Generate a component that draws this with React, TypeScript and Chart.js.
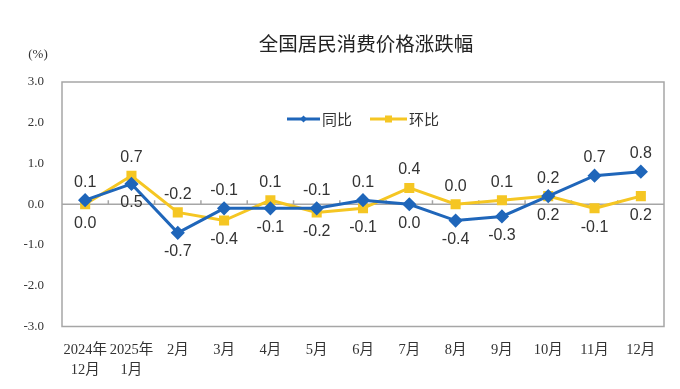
import React, { useEffect, useRef } from "react";
import { Chart, registerables } from "chart.js";
Chart.register(...registerables);

const categories: (string | string[])[] = [
  ["2024年", "12月"], ["2025年", "1月"], "2月", "3月", "4月", "5月", "6月",
  "7月", "8月", "9月", "10月", "11月", "12月",
];
const yoy = [0.1, 0.5, -0.7, -0.1, -0.1, -0.1, 0.1, 0.0, -0.4, -0.3, 0.2, 0.7, 0.8];
const mom = [0.0, 0.7, -0.2, -0.4, 0.1, -0.2, -0.1, 0.4, 0.0, 0.1, 0.2, -0.1, 0.2];
const seriesNames = ["同比", "环比"];
const titleText = "全国居民消费价格涨跌幅";
const unitText = "(%)";

const BLUE = "#1F66BA";
const YELLOW = "#F5C623";
const FRAME = "#A6A6A6";
const CJK = "'Noto Sans CJK SC', 'Noto Sans', sans-serif";
const SERIF = "'Liberation Serif', 'Noto Sans CJK SC', serif";
const SANS = "'Liberation Sans', Arial, sans-serif";

const decorPlugin = {
  id: "decor",
  beforeDatasetsDraw(chart: any) {
    const { ctx, chartArea: a, scales } = chart;
    const y0 = scales.y.getPixelForValue(0);
    ctx.save();
    ctx.strokeStyle = FRAME;
    ctx.lineWidth = 1.5;
    ctx.strokeRect(a.left, a.top, a.right - a.left, a.bottom - a.top);
    ctx.beginPath();
    ctx.moveTo(a.left, y0);
    ctx.lineTo(a.right, y0);
    const n = categories.length;
    const step = (a.right - a.left) / n;
    for (let i = 1; i < n; i++) {
      const x = a.left + step * i;
      ctx.moveTo(x, y0);
      ctx.lineTo(x, y0 - 4);
    }
    ctx.stroke();
    ctx.restore();
  },
  afterDraw(chart: any) {
    const { ctx } = chart;
    ctx.save();
    // data labels
    const m0 = chart.getDatasetMeta(0).data;
    const m1 = chart.getDatasetMeta(1).data;
    ctx.font = `16px ${SANS}`;
    ctx.fillStyle = "#333";
    ctx.textAlign = "center";
    ctx.textBaseline = "middle";
    for (let j = 0; j < yoy.length; j++) {
      const aboveIsYoy = yoy[j] >= mom[j];
      const up = aboveIsYoy ? m0[j] : m1[j];
      const dn = aboveIsYoy ? m1[j] : m0[j];
      const upV = aboveIsYoy ? yoy[j] : mom[j];
      const dnV = aboveIsYoy ? mom[j] : yoy[j];
      ctx.fillText(upV.toFixed(1), up.x, up.y - 18);
      ctx.fillText(dnV.toFixed(1), dn.x, dn.y + 19);
    }
    // title
    ctx.font = `19.5px ${CJK}`;
    ctx.fillStyle = "#222";
    ctx.fillText(titleText, 366, 44);
    // unit
    ctx.font = `13px ${SERIF}`;
    ctx.fillStyle = "#333";
    ctx.fillText(unitText, 38, 55);
    // legend
    const ly = 119;
    const drawItem = (x1: number, x2: number, color: string, style: string, label: string) => {
      ctx.strokeStyle = color;
      ctx.lineWidth = 3;
      ctx.beginPath();
      ctx.moveTo(x1, ly);
      ctx.lineTo(x2, ly);
      ctx.stroke();
      ctx.fillStyle = color;
      const cx = (x1 + x2) / 2;
      if (style === "diamond") {
        ctx.beginPath();
        ctx.moveTo(cx, ly - 3.5);
        ctx.lineTo(cx + 3.5, ly);
        ctx.lineTo(cx, ly + 3.5);
        ctx.lineTo(cx - 3.5, ly);
        ctx.closePath();
        ctx.fill();
      } else {
        ctx.fillRect(cx - 3.5, ly - 3.5, 7, 7);
      }
      ctx.font = `15px ${CJK}`;
      ctx.fillStyle = "#333";
      ctx.textAlign = "left";
      ctx.fillText(label, x2 + 2, ly);
    };
    drawItem(287, 320, BLUE, "diamond", seriesNames[0]);
    drawItem(370, 407, YELLOW, "square", seriesNames[1]);
    ctx.restore();
  },
};

export default function App() {
  const ref = useRef<HTMLCanvasElement>(null);
  useEffect(() => {
    const chart = new Chart(ref.current!, {
      type: "line",
      data: {
        labels: categories as any,
        datasets: [
          {
            label: seriesNames[0],
            data: yoy,
            borderColor: BLUE,
            backgroundColor: BLUE,
            borderWidth: 3,
            pointStyle: "rectRot",
            pointRadius: 5,
            pointHoverRadius: 5,
            tension: 0,
          },
          {
            label: seriesNames[1],
            data: mom,
            borderColor: YELLOW,
            backgroundColor: YELLOW,
            borderWidth: 3,
            pointStyle: "rect",
            pointRadius: 5,
            pointHoverRadius: 5,
            tension: 0,
          },
        ],
      },
      options: {
        animation: false,
        responsive: false,
        maintainAspectRatio: false,
        layout: { padding: { left: 0, top: 82, right: 16, bottom: 12 } },
        plugins: { legend: { display: false }, title: { display: false }, tooltip: { enabled: false } },
        scales: {
          x: {
            offset: true,
            grid: { display: false, offset: true },
            border: { display: false },
            ticks: {
              color: "#333",
              font: { family: SERIF, size: 14.5, lineHeight: 1.38 },
              padding: 6,
              maxRotation: 0,
              autoSkip: false,
            },
            afterFit: (s: any) => { s.height = 50.5; },
          },
          y: {
            min: -3,
            max: 3,
            grid: { display: false },
            border: { display: false },
            ticks: {
              stepSize: 1,
              color: "#333",
              font: { family: SERIF, size: 13 },
              padding: 10,
              callback: (v: any) => Number(v).toFixed(1),
            },
            afterFit: (s: any) => { s.width = 62; },
          },
        },
      },
      plugins: [decorPlugin],
    });
    return () => chart.destroy();
  }, []);
  return (
    <div style={{ position: "fixed", left: 0, top: 0, width: 680, height: 389, background: "#fff" }}>
      <canvas ref={ref} width={680} height={389} style={{ width: 680, height: 389 }} />
    </div>
  );
}
